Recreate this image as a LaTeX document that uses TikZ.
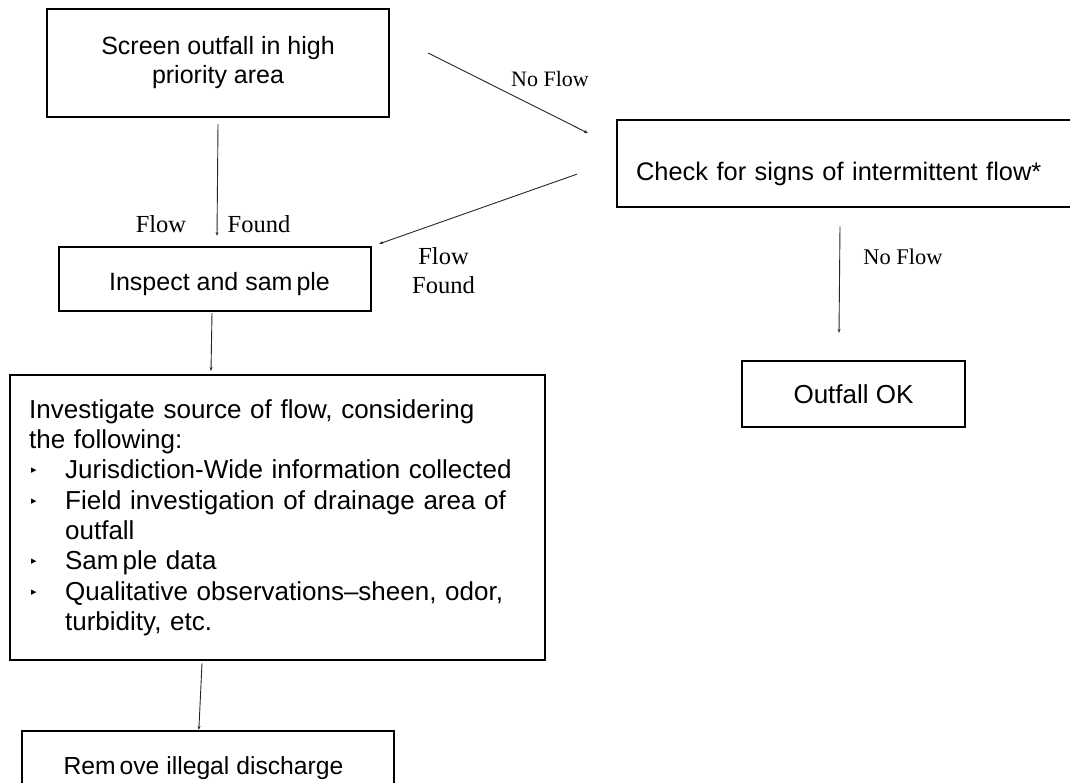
\documentclass[tikz,border=0pt]{standalone}
\usepackage{fontspec}
\setmainfont{Liberation Sans}
\newfontfamily\serifff{Liberation Serif}
\newfontfamily\symff{DejaVu Sans}
\usetikzlibrary{arrows.meta,calc}
\newcommand{\bulitem}{\makebox[36pt][l]{\hspace{2pt}\raisebox{5pt}{\symff\fontsize{11}{11}\selectfont ▸}}}
\begin{document}
\begin{tikzpicture}[x=1pt,y=-1pt,
  box/.style={draw=black, line width=2.3pt, rectangle, inner sep=0pt},
  arr/.style={draw=black!85, line width=0.9pt, -{Stealth[length=4pt,width=3pt]}},
  lbl/.style={font=\serifff\fontsize{24.5}{29}\selectfont, inner sep=0pt, align=center},
  lblsm/.style={font=\serifff\fontsize{22}{26}\selectfont, inner sep=0pt}]
\useasboundingbox (0,0) rectangle (1070,783);
\fill[white] (0,0) rectangle (1070,783);
\clip (0,0) rectangle (1070,783);

% boxes
\node[box, minimum width=342pt, minimum height=108pt, align=center,
      font=\fontsize{25}{29}\selectfont] (screen) at (218,63)
      {Screen outfall in high\\priority area};
\node[box, anchor=north west, minimum height=87pt, text width=460pt, inner xsep=19pt,
      align=left, text height=38pt, text depth=5pt,
      font=\fontsize{25.4}{30}\selectfont] (check) at (616,119)
      {Check for signs of intermittent flow*};
\node[box, minimum width=312pt, minimum height=64pt, text height=27pt, text depth=3pt,
      font=\fontsize{25}{29}\selectfont] (inspect) at (215,279)
      {\hspace*{9pt}Inspect and sam\hspace{4pt}ple};
\node[box, anchor=north west, minimum height=285pt, text width=497pt, inner xsep=19pt,
      align=left, font=\fontsize{26}{30.27}\selectfont] (invest) at (9,374)
      {Investigate source of flow, considering\\
       the following:\\
       \bulitem Jurisdiction-Wide information collected\\
       \bulitem Field investigation of drainage area of\\
       \hspace*{36pt}outfall\\
       \bulitem Sam\hspace{4pt}ple data\\
       \bulitem Qualitative observations–sheen, odor,\\
       \hspace*{36pt}turbidity, etc.};
\node[box, minimum width=223pt, minimum height=66pt,
      font=\fontsize{26}{30}\selectfont] (outfall) at (853.5,394) {Outfall OK};
\node[box, minimum width=372pt, minimum height=75pt,
      font=\fontsize{24.7}{29}\selectfont] (remove) at (208,768.5)
      {Rem\hspace{4pt}ove illegal discharge\hspace*{9pt}};

% connectors
\draw[arr] ($(screen.south)+(0,6)$) -- ($(screen.south |- inspect.north)+(-1,-10)$);
\draw[arr] ($(screen.east)+(38,-10)$) -- ($(check.west)+(-28,-30.5)$);
\draw[arr] ($(check.west)+(-39,10.5)$) -- ($(inspect.north east)+(7,-2)$);
\draw[arr] ($(check.south west)+(224,18)$) -- ($(outfall.north)+(-14.5,-27)$);
\draw[arr] ($(inspect.south)+(-3,1)$) -- ($(invest.north west)+(202,-3)$);
\draw[arr] ($(invest.south west)+(193,2)$) -- ($(remove.north west)+(178,0)$);

% labels
\node[lblsm] (nf1) at (550,79) {No Flow};
\node[lblsm, font=\serifff\fontsize{22.4}{26}\selectfont] (nf2) at (903,257) {No Flow};
\node[lbl] (flowL) at (161,224) {Flow};
\node[lbl] (foundL) at (259,224) {Found};
\node[lbl] (ff) at (443.5,270.3) {Flow\\Found};
\end{tikzpicture}
\end{document}
